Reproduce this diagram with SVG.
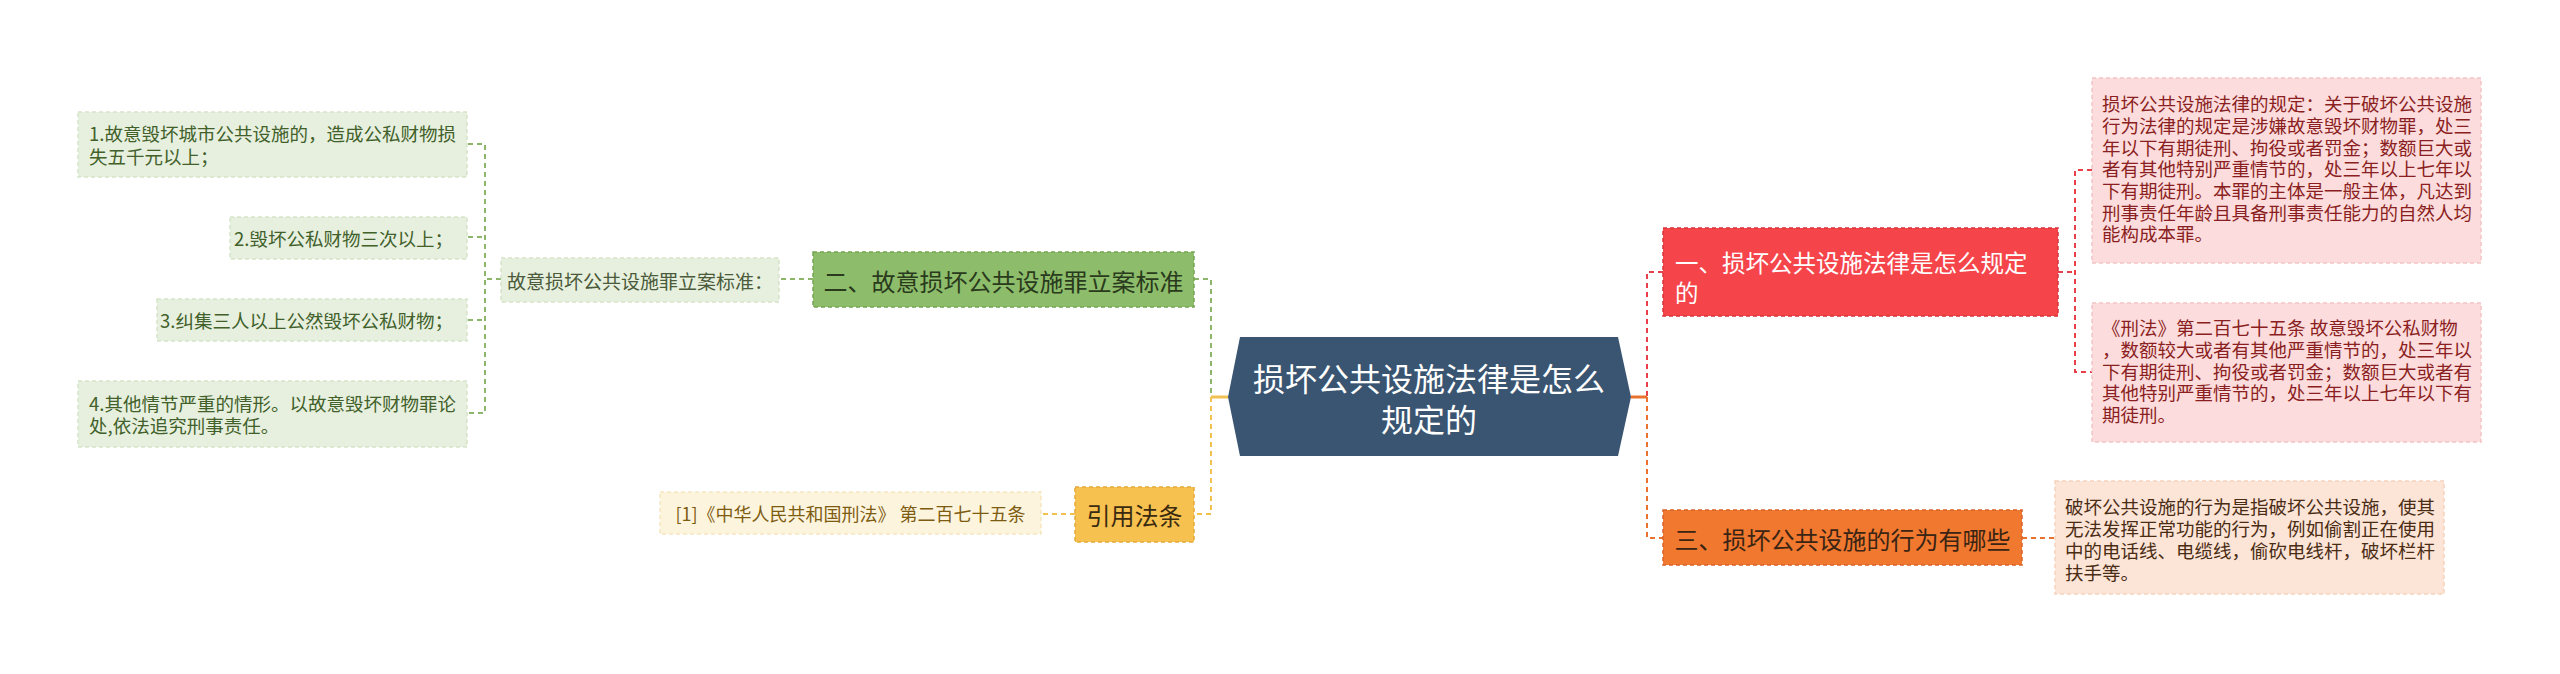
<svg xmlns="http://www.w3.org/2000/svg" width="2560" height="674" viewBox="0 0 2560 674">
<style>
text{font-family:"Noto Sans CJK SC","Noto Sans",sans-serif;}
.c{fill:none;stroke-width:2;stroke-dasharray:5 4;}
.g{stroke:#8db66a;}
.y{stroke:#f0c050;}
.r{stroke:#e8404a;}
.o{stroke:#e8722e;}
.s{stroke-dasharray:none;stroke-width:3;}
.bd{stroke-width:1.5;stroke-dasharray:4 3;}
.t18{font-size:18.5px;}
.t24{font-size:24px;}
</style>
<rect width="2560" height="674" fill="#ffffff"/>
<g id="connectors">
<path class="c g" d="M1194 279 H1211 V397"/>
<path class="c y" d="M1211 397 V514 H1194"/>
<path class="c y s" d="M1211 397 H1228"/>
<path class="c r" d="M1663 272 H1647 V397"/>
<path class="c o" d="M1647 397 V538 H1663"/>
<path class="c o s" d="M1631 397 H1647"/>
<path class="c g" d="M813 279 H779"/>
<path class="c g" d="M501 279 H485"/>
<path class="c g" d="M468 144 H485 V413 H468 M468 237 H485 M468 320 H485"/>
<path class="c y" d="M1075 514 H1041"/>
<path class="c r" d="M2058 272 H2075 M2092 170 H2075 V372 H2092"/>
<path class="c o" d="M2022 538 H2055"/>
</g>
<g id="root">
<polygon points="1240,337 1618,337 1631,397 1618,456 1240,456 1228,397" fill="#3a5571"/>
<text x="1429" y="377" font-size="32" fill="#ffffff" text-anchor="middle" dominant-baseline="central">损坏公共设施法律是怎么</text>
<text x="1429" y="418" font-size="32" fill="#ffffff" text-anchor="middle" dominant-baseline="central">规定的</text>
</g>
<g id="n1">
<rect x="1663" y="228" width="395" height="88" fill="#f5454b" class="bd" stroke="#d8343a"/>
<text x="1675" y="261.5" font-size="23.5" fill="#ffffff" dominant-baseline="central">一、损坏公共设施法律是怎么规定</text>
<text x="1675" y="291.5" font-size="23.5" fill="#ffffff" dominant-baseline="central">的</text>
</g>
<g id="n1a">
<rect x="2092" y="78" width="389" height="185" fill="#fddcdd" class="bd" stroke="#f4c4c6"/>
<g class="t18" fill="#8a1f22">
<text x="2102" y="103" dominant-baseline="central">损坏公共设施法律的规定：关于破坏公共设施</text>
<text x="2102" y="125" dominant-baseline="central">行为法律的规定是涉嫌故意毁坏财物罪，处三</text>
<text x="2102" y="146.5" dominant-baseline="central">年以下有期徒刑、拘役或者罚金；数额巨大或</text>
<text x="2102" y="168" dominant-baseline="central">者有其他特别严重情节的，处三年以上七年以</text>
<text x="2102" y="190" dominant-baseline="central">下有期徒刑。本罪的主体是一般主体，凡达到</text>
<text x="2102" y="211.5" dominant-baseline="central">刑事责任年龄且具备刑事责任能力的自然人均</text>
<text x="2102" y="233" dominant-baseline="central">能构成本罪。</text>
</g>
</g>
<g id="n1b">
<rect x="2092" y="303" width="389" height="139" fill="#fddcdd" class="bd" stroke="#f4c4c6"/>
<g class="t18" fill="#8a1f22">
<text x="2102" y="327" dominant-baseline="central">《刑法》第二百七十五条 故意毁坏公私财物</text>
<text x="2102" y="349" dominant-baseline="central">，数额较大或者有其他严重情节的，处三年以</text>
<text x="2102" y="370.5" dominant-baseline="central">下有期徒刑、拘役或者罚金；数额巨大或者有</text>
<text x="2102" y="392" dominant-baseline="central">其他特别严重情节的，处三年以上七年以下有</text>
<text x="2102" y="414" dominant-baseline="central">期徒刑。</text>
</g>
</g>
<g id="n3">
<rect x="1663" y="510" width="359" height="55" fill="#f0782f" class="bd" stroke="#d8622a"/>
<text class="t24" x="1842.5" y="538" fill="#3a2414" text-anchor="middle" dominant-baseline="central">三、损坏公共设施的行为有哪些</text>
</g>
<g id="n3a">
<rect x="2055" y="481" width="389" height="113" fill="#fce4d6" class="bd" stroke="#f6d2bd"/>
<g class="t18" fill="#4a2c14">
<text x="2065" y="506" dominant-baseline="central">破坏公共设施的行为是指破坏公共设施，使其</text>
<text x="2065" y="528" dominant-baseline="central">无法发挥正常功能的行为，例如偷割正在使用</text>
<text x="2065" y="550" dominant-baseline="central">中的电话线、电缆线，偷砍电线杆，破坏栏杆</text>
<text x="2065" y="572" dominant-baseline="central">扶手等。</text>
</g>
</g>
<g id="n2">
<rect x="813" y="252" width="381" height="55" fill="#8dbd6b" class="bd" stroke="#74a653"/>
<text class="t24" x="1003.5" y="280" fill="#2a3a1c" text-anchor="middle" dominant-baseline="central">二、故意损坏公共设施罪立案标准</text>
</g>
<g id="n2a">
<rect x="501" y="258" width="278" height="44" fill="#e7f0de" class="bd" stroke="#d6e4ca"/>
<text x="640" y="280" font-size="19" fill="#4a5a3a" text-anchor="middle" dominant-baseline="central">故意损坏公共设施罪立案标准：</text>
</g>
<g id="i1">
<rect x="78" y="112" width="389" height="65" fill="#e7f0de" class="bd" stroke="#d6e4ca"/>
<text class="t18" x="89" y="133" fill="#41602a" dominant-baseline="central">1.故意毁坏城市公共设施的，造成公私财物损</text>
<text class="t18" x="89" y="156" fill="#41602a" dominant-baseline="central">失五千元以上；</text>
</g>
<g id="i2">
<rect x="230" y="217" width="237" height="42" fill="#e7f0de" class="bd" stroke="#d6e4ca"/>
<text class="t18" x="453" y="238" fill="#41602a" text-anchor="end" dominant-baseline="central">2.毁坏公私财物三次以上；</text>
</g>
<g id="i3">
<rect x="157" y="299" width="310" height="42" fill="#e7f0de" class="bd" stroke="#d6e4ca"/>
<text class="t18" x="453" y="320" fill="#41602a" text-anchor="end" dominant-baseline="central">3.纠集三人以上公然毁坏公私财物；</text>
</g>
<g id="i4">
<rect x="78" y="381" width="389" height="66" fill="#e7f0de" class="bd" stroke="#d6e4ca"/>
<text class="t18" x="89" y="403" fill="#41602a" dominant-baseline="central">4.其他情节严重的情形。以故意毁坏财物罪论</text>
<text class="t18" x="89" y="425" fill="#41602a" dominant-baseline="central">处,依法追究刑事责任。</text>
</g>
<g id="n4">
<rect x="1075" y="487" width="119" height="55" fill="#f6c14f" class="bd" stroke="#e3a93a"/>
<text class="t24" x="1134.5" y="514" fill="#3a2a10" text-anchor="middle" dominant-baseline="central">引用法条</text>
</g>
<g id="n4a">
<rect x="660" y="492" width="381" height="42" fill="#fdf4dd" class="bd" stroke="#f6e6c0"/>
<text x="850.5" y="513" font-size="18" fill="#7d5c12" text-anchor="middle" dominant-baseline="central">[1]《中华人民共和国刑法》 第二百七十五条</text>
</g>
</svg>
